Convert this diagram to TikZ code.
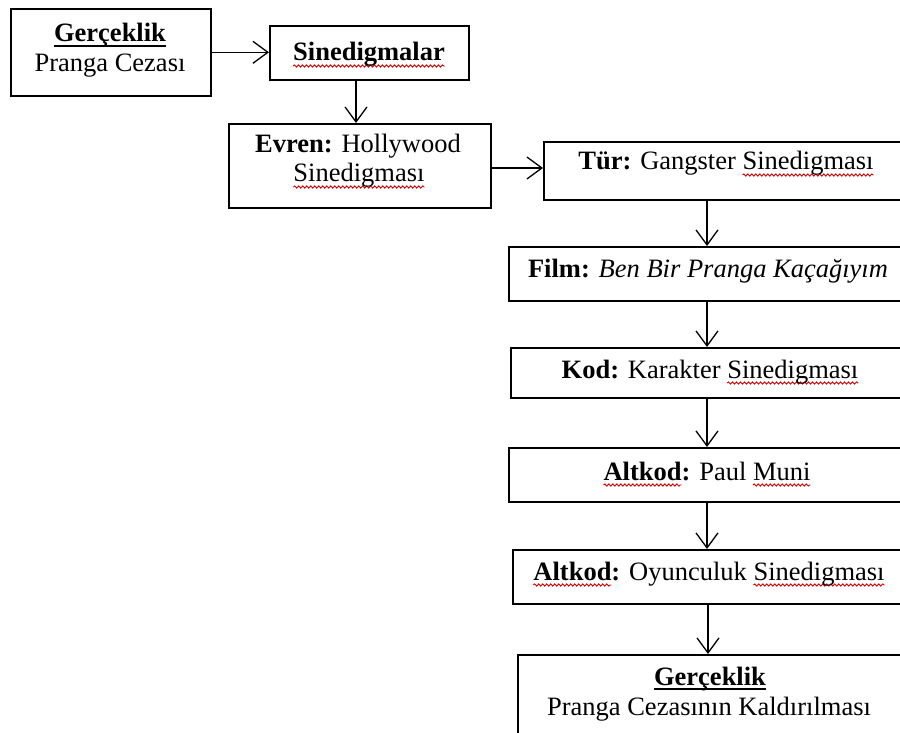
\documentclass[tikz,border=0pt]{standalone}
\usepackage{fontspec}
\setmainfont{Liberation Serif}
\usetikzlibrary{arrows.meta,decorations.pathmorphing}
\newsavebox\wvbox
\newdimen\wvdim
\newcommand\wv[1]{\sbox\wvbox{#1}\wvdim=\wd\wvbox\rlap{\tikz[overlay]\draw[red!85!black,line width=0.9pt,decorate,decoration={snake,amplitude=1.1pt,segment length=4pt}](0pt,-5pt)--(\wvdim,-5pt);}\usebox\wvbox}
\newcommand\ulw[1]{\sbox\wvbox{#1}\wvdim=\wd\wvbox\rlap{\tikz[overlay]\draw[line width=1.3pt](0pt,-4pt)--(\wvdim,-4pt);}\usebox\wvbox}
\tikzset{
  box/.style={draw, line width=1.6pt, rectangle, inner sep=0pt, anchor=north west},
  txt/.style={inner sep=0pt, anchor=base, font=\fontsize{26.5}{30}\selectfont},
  arr/.style={line width=1.3pt, -{Straight Barb[length=15pt,width=22pt]}}
}
\begin{document}
\begin{tikzpicture}[x=1pt,y=-1pt]
\useasboundingbox (0,0) rectangle (900,733);
\clip (0,0) rectangle (900,733);
\fill[white] (0,0) rectangle (900,733);
% boxes
\node[box, minimum width=200pt, minimum height=87pt] (b1) at (10,8) {};
\node[box, minimum width=199pt, minimum height=54pt] (b2) at (269,25) {};
\node[box, minimum width=262pt, minimum height=84pt] (b3) at (228,123) {};
\node[box, minimum width=363pt, minimum height=58pt] (b4) at (543,141) {};
\node[box, minimum width=398pt, minimum height=54pt] (b5) at (508,246) {};
\node[box, minimum width=396pt, minimum height=50pt] (b6) at (510,347) {};
\node[box, minimum width=398pt, minimum height=54pt] (b7) at (508,447) {};
\node[box, minimum width=394pt, minimum height=54pt] (b8) at (512,549) {};
\node[box, minimum width=389pt, minimum height=110pt] (b9) at (517,654) {};
% texts
\node[txt] (t1a) at (110,42) {\ulw{\textbf{Gerçeklik}}};
\node[txt] (t1b) at (110,72) {Pranga Cezası};
\node[txt] (t2) at (369,61) {\wv{\textbf{Sinedigmalar}}};
\node[txt] (t3a) at (358,153) {\textbf{Evren:} Hollywood};
\node[txt] (t3b) at (359,182) {\wv{Sinedigması}};
\node[txt] (t4) at (726,170) {\textbf{Tür:} Gangster \wv{Sinedigması}};
\node[txt] (t5) at (708,277) {\textbf{Film:} \textit{Ben Bir Pranga Kaçağıyım}};
\node[txt] (t6) at (710,378) {\textbf{Kod:} Karakter \wv{Sinedigması}};
\node[txt] (t7) at (707,480) {\textbf{\wv{Altkod}:} Paul \wv{Muni}};
\node[txt] (t8) at (709,580) {\textbf{\wv{Altkod}:} Oyunculuk \wv{Sinedigması}};
\node[txt] (t9a) at (710,685) {\ulw{\textbf{Gerçeklik}}};
\node[txt] (t9b) at (709,715) {Pranga Cezasının Kaldırılması};
% helper coordinates
\coordinate (c2) at (356,0);
\coordinate (c3) at (0,168);
\coordinate (cx) at (707,0);
\coordinate (cy) at (708,0);
% arrows
\draw[arr] (b1.east) -- (b1.east -| b2.west);
\draw[arr] (b2.south -| c2) -- (b3.north -| c2);
\draw[arr] (b3.east |- c3) -- (b4.west |- c3);
\draw[arr] (b4.south -| cx) -- (b5.north -| cx);
\draw[arr] (b5.south -| cx) -- (b6.north -| cx);
\draw[arr] (b6.south -| cx) -- (b7.north -| cx);
\draw[arr] (b7.south -| cx) -- (b8.north -| cx);
\draw[arr] (b8.south -| cy) -- (b9.north -| cy);
\end{tikzpicture}
\end{document}
